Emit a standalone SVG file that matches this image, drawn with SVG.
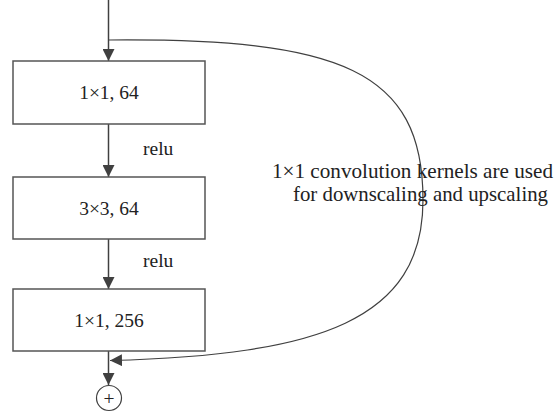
<svg xmlns="http://www.w3.org/2000/svg" width="557" height="412" viewBox="0 0 557 412">
<defs>
<marker id="ah" viewBox="0 0 12 12" refX="12" refY="6" markerWidth="12" markerHeight="12" markerUnits="userSpaceOnUse" orient="auto">
<path d="M0,0 L12,6 L0,12 Z" fill="#404040"/>
</marker>
</defs>
<style>
.box{fill:#fff;stroke:#555;stroke-width:1.5}
.lbl{font-family:"Liberation Serif","Times New Roman",serif;font-size:19.5px;fill:#222}
.note{font-family:"Liberation Serif","Times New Roman",serif;font-size:21px;fill:#222}
.ln{fill:none;stroke:#404040;stroke-width:1.5}
.cv{fill:none;stroke:#404040;stroke-width:1.2}
</style>
<g id="connectors">
<line class="ln" x1="108.5" y1="0" x2="108.5" y2="61" marker-end="url(#ah)"/>
<line class="ln" x1="108.5" y1="124" x2="108.5" y2="177" marker-end="url(#ah)"/>
<line class="ln" x1="108.5" y1="239" x2="108.5" y2="289" marker-end="url(#ah)"/>
<line class="ln" x1="108.5" y1="351" x2="108.5" y2="385" marker-end="url(#ah)"/>
<path class="cv" d="M108.5,40 C340,38 423,70 423,200 C423,320 320,355 110,360.5" marker-end="url(#ah)"/>
</g>
<g id="box1"><rect class="box" x="13" y="61" width="192" height="63"/><text class="lbl" x="109" y="99" text-anchor="middle">1×1, 64</text></g>
<g id="box2"><rect class="box" x="13" y="177" width="192" height="62"/><text class="lbl" x="109" y="215" text-anchor="middle">3×3, 64</text></g>
<g id="box3"><rect class="box" x="13" y="289" width="192" height="62"/><text class="lbl" x="109" y="327" text-anchor="middle">1×1, 256</text></g>
<g id="relu1"><text class="lbl" x="143" y="155">relu</text></g>
<g id="relu2"><text class="lbl" x="143" y="267">relu</text></g>
<g id="note"><text class="note" x="272" y="178" textLength="281" lengthAdjust="spacingAndGlyphs">1×1 convolution kernels are used</text><text class="note" x="293" y="201" textLength="255" lengthAdjust="spacingAndGlyphs">for downscaling and upscaling</text></g>
<g id="sum"><circle cx="109" cy="398" r="12.5" fill="#fff" stroke="#404040" stroke-width="1.2"/><text class="lbl" x="109" y="404.5" text-anchor="middle">+</text></g>
</svg>
